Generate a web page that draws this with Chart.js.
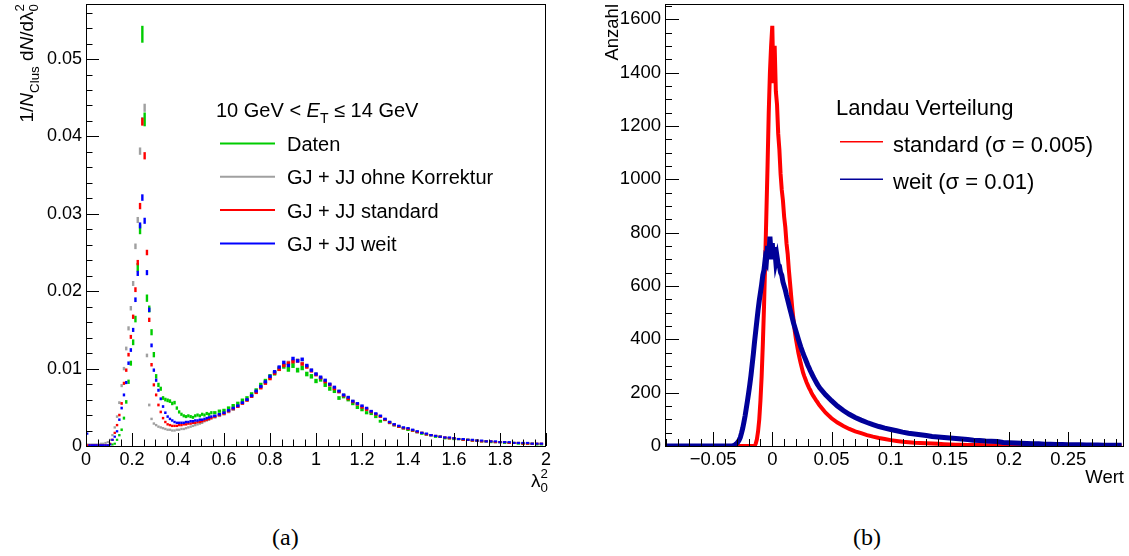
<!DOCTYPE html>
<html>
<head>
<meta charset="utf-8">
<script src="https://cdn.jsdelivr.net/npm/chart.js"></script>
<style>
  html, body { margin: 0; padding: 0; background: #fff; }
  body { width: 1129px; height: 556px; position: relative; overflow: hidden; }
  canvas { position: absolute; top: 0; }
  .cap { position: absolute; top: 524px; font-family: "Liberation Serif", "DejaVu Serif", serif; font-size: 24px; color: #000; }
</style>
</head>
<body>
<canvas id="lambdaChart" width="565" height="500" style="left:0"></canvas>
<canvas id="landauChart" width="564" height="500" style="left:565px"></canvas>
<div class="cap" style="left:272px">(a)</div>
<div class="cap" style="left:853px">(b)</div>
<script>
// ---------- (a) shower shape lambda0^2 ----------
// bin centres: 0.01 wide up to 0.55, 0.02 wide above
const fineBins = Array.from({length: 55}, (_, k) => +(0.005 + 0.01 * k).toFixed(3));
const coarseBins = Array.from({length: 72}, (_, j) => +(0.56 + 0.02 * j).toFixed(2));
const lambdaBins = fineBins.concat(coarseBins);

const seriesLabels = ['Daten', 'GJ + JJ ohne Korrektur', 'GJ + JJ standard', 'GJ + JJ weit'];
const seriesColors = ['#00cc00', '#a0a0a0', '#ff0000', '#0000ff'];

const datenFine = [0,0,0,0,0,0,0,0,0,0,0,0.0002,0.0003,0.0008,0.0014,0.0021,0.0036,0.0057,0.0083,0.0107,
  0.0134,0.0164,0.0231,0.0280,0.0532,0.0422,0.0191,0.0177,0.0147,0.0118,0.0090,0.0079,0.0074,0.0062,0.0060,
  0.0059,0.0058,0.0055,0.0056,0.0049,0.0044,0.0041,0.0039,0.0038,0.0039,0.0038,0.0037,0.0039,0.0040,0.0039,
  0.0041,0.0040,0.0042,0.0041,0.0043];
const datenCoarse = [0.0043,0.0045,0.0046,0.0049,0.0052,0.0055,0.0059,0.0062,0.0067,0.0072,
  0.0079,0.0084,0.0090,0.0094,0.0100,0.0103,0.0099,0.0104,0.0098,0.0101,
  0.0093,0.0090,0.0084,0.0086,0.0079,0.0074,0.0071,0.0062,0.0064,0.0060,
  0.0055,0.0050,0.0047,0.0043,0.0042,0.0038,0.0032,0.0034,0.0030,0.0027,
  0.0025,0.0023,0.0021,0.0020,0.0018,0.0016,0.0015,0.0014,0.0012,0.0012,
  0.0010,0.0010,0.0009,0.0009,0.0008,0.0008,0.0007,0.0007,0.0006,0.0006,
  0.0005,0.0005,0.0005,0.0004,0.0004,0.0004,0.0003,0.0003,0.0003,0.0003,
  0.0002,0.0002];

const ohneFine = [0.0002,0.0002,0.0002,0.0002,0.0002,0.0002,0.0003,0.0003,0.0004,0.0005,
  0.0008,0.0014,0.0024,0.0038,0.0056,0.0078,0.0100,0.0126,0.0152,0.0178,
  0.0210,0.0258,0.0292,0.0381,0.0420,0.0437,0.0117,0.0053,0.0035,0.0029,
  0.0027,0.0025,0.0024,0.0023,0.0022,0.0021,0.0021,0.0020,0.0020,0.0021,
  0.0021,0.0022,0.0022,0.0023,0.0024,0.0025,0.0026,0.0027,0.0028,0.0029,
  0.0030,0.0032,0.0033,0.0034,0.0036];
const ohneCoarse = [0.0037,0.0039,0.0041,0.0044,0.0047,0.0051,0.0055,0.0059,0.0064,0.0070,
  0.0076,0.0082,0.0088,0.0095,0.0100,0.0105,0.0108,0.0110,0.0111,0.0107,
  0.0103,0.0098,0.0093,0.0088,0.0084,0.0079,0.0075,0.0070,0.0066,0.0062,
  0.0058,0.0054,0.0051,0.0048,0.0044,0.0041,0.0038,0.0034,0.0031,0.0028,
  0.0025,0.0023,0.0022,0.0020,0.0018,0.0017,0.0015,0.0014,0.0013,0.0012,
  0.0011,0.0010,0.0010,0.0009,0.0008,0.0008,0.0007,0.0007,0.0006,0.0006,
  0.0006,0.0005,0.0005,0.0005,0.0004,0.0004,0.0004,0.0003,0.0003,0.0003,
  0.0003,0.0003];

const standardFine = [0.0001,0.0001,0.0001,0.0001,0.0001,0.0001,0.0001,0.0001,0.0001,0.0001,
  0.0003,0.0008,0.0017,0.0027,0.0040,0.0055,0.0081,0.0098,0.0118,0.0141,
  0.0167,0.0202,0.0237,0.0310,0.0419,0.0375,0.0250,0.0163,0.0105,0.0079,
  0.0066,0.0053,0.0044,0.0036,0.0031,0.0028,0.0027,0.0026,0.0026,0.0026,
  0.0027,0.0027,0.0028,0.0028,0.0029,0.0029,0.0030,0.0030,0.0031,0.0031,
  0.0032,0.0033,0.0034,0.0035,0.0036];
const standardCoarse = [0.0038,0.0040,0.0042,0.0045,0.0048,0.0051,0.0055,0.0059,0.0064,0.0069,
  0.0075,0.0081,0.0087,0.0094,0.0099,0.0104,0.0107,0.0109,0.0110,0.0106,
  0.0102,0.0097,0.0092,0.0088,0.0083,0.0079,0.0074,0.0070,0.0065,0.0061,
  0.0057,0.0054,0.0050,0.0047,0.0044,0.0041,0.0038,0.0034,0.0030,0.0027,
  0.0025,0.0023,0.0022,0.0020,0.0018,0.0017,0.0015,0.0014,0.0013,0.0012,
  0.0011,0.0010,0.0010,0.0009,0.0008,0.0008,0.0007,0.0007,0.0006,0.0006,
  0.0006,0.0005,0.0005,0.0005,0.0004,0.0004,0.0004,0.0003,0.0003,0.0003,
  0.0003,0.0003];

const weitFine = [0.0016,0.0001,0.0001,0.0001,0.0001,0.0001,0.0001,0.0001,0.0001,0.0001,
  0.0002,0.0008,0.0012,0.0019,0.0034,0.0049,0.0066,0.0082,0.0107,0.0124,
  0.0150,0.0189,0.0223,0.0285,0.0321,0.0291,0.0224,0.0176,0.0130,0.0098,
  0.0085,0.0072,0.0061,0.0051,0.0043,0.0038,0.0035,0.0033,0.0031,0.0030,
  0.0030,0.0030,0.0030,0.0031,0.0031,0.0032,0.0032,0.0033,0.0033,0.0034,
  0.0034,0.0035,0.0036,0.0037,0.0038];
const weitCoarse = [0.0039,0.0041,0.0043,0.0046,0.0049,0.0052,0.0056,0.0060,0.0065,0.0071,
  0.0077,0.0083,0.0090,0.0096,0.0102,0.0108,0.0104,0.0113,0.0110,0.0112,
  0.0104,0.0098,0.0093,0.0089,0.0085,0.0080,0.0076,0.0071,0.0066,0.0063,
  0.0058,0.0055,0.0052,0.0049,0.0045,0.0042,0.0039,0.0035,0.0031,0.0028,
  0.0026,0.0024,0.0023,0.0021,0.0019,0.0017,0.0016,0.0014,0.0013,0.0012,
  0.0011,0.0011,0.0010,0.0009,0.0009,0.0008,0.0008,0.0007,0.0007,0.0006,
  0.0006,0.0006,0.0005,0.0005,0.0005,0.0004,0.0004,0.0004,0.0004,0.0003,
  0.0003,0.0003];

// ---------- (b) Landau distributions ----------
const landauHead = [-0.09, -0.08, -0.07, -0.06, -0.05, -0.04];
const landauCore = Array.from({length: 76}, (_, i) => +(-0.035 + 0.001 * i).toFixed(3));
const landauTail = Array.from({length: 51}, (_, i) => +(0.045 + 0.005 * i).toFixed(3));
const landauX = landauHead.concat(landauCore, landauTail);

const landauLabels = ['standard (σ = 0.005)', 'weit (σ = 0.01)'];

const standardLandau = [0,0,0,0,0,0,
  0,0,0,0,0,0,0,0,0,0, 0,0,0,0,0,0,0,0,0,0, 0,
  8,25,55,100,170,260,380,520,690,870,1050,1250,1400,1500,
  1575,1360,1500,1330,1280,1170,1110,1020,960,920,
  860,820,760,720,660,610,560,510,470,430,
  400,375,350,330,310,292,275,262,250,238,
  228,218,210,200,192,185,178,171,165,158,
  152,
  125,104,88,75,64,55,48,41,35,30,
  26,22,19,16,14,12,11,10,9,8,
  7,6,5,5,4,4,4,3,3,3,
  3,2,2,2,2,2,2,2,1,1,
  1,1,1,1,1,1,1,1,1,1,
  1];
const weitLandau = [0,0,0,0,0,0,
  0,0,1,3,6,10,15,22,32,48,
  66,88,112,140,168,198,230,265,305,345,
  390,430,470,510,545,575,605,640,660,700,
  690,750,700,785,720,
  760,700,745,690,710,680,675,650,640,615,
  600,585,565,548,530,512,495,478,460,445,
  430,415,400,386,372,360,347,336,325,314,
  303,293,283,274,265,256,248,240,232,225,
  218,
  192,170,150,133,119,107,97,88,80,73,
  67,62,57,52,48,45,42,39,36,34,
  32,30,28,26,24,22,21,19,18,17,
  13,12,11,10,9,8,8,7,7,6,
  6,5,5,5,4,4,4,3,3,3,
  3];

// ---------- helpers ----------
const FONT = '"Liberation Sans", Arial, Helvetica, sans-serif';
function fontStr(size, italic) { return (italic ? 'italic ' : '') + size + 'px ' + FONT; }

function partWidth(ctx, p, size) {
  if (p.sub !== undefined) {
    ctx.font = fontStr(size * 0.7);
    return Math.max(ctx.measureText(p.sub).width, ctx.measureText(p.sup).width);
  }
  ctx.font = fontStr(size * (p.s || 1), p.i);
  return ctx.measureText(p.t).width;
}

function drawRich(ctx, x, y, parts, size, align) {
  let w = 0;
  parts.forEach(p => { w += partWidth(ctx, p, size); });
  let cx = align === 'right' ? x - w : x;
  ctx.textAlign = 'left';
  ctx.textBaseline = 'alphabetic';
  ctx.fillStyle = '#000';
  parts.forEach(p => {
    const pw = partWidth(ctx, p, size);
    if (p.sub !== undefined) {
      ctx.fillText(p.sub, cx, y + size * 0.28);
      ctx.fillText(p.sup, cx, y - size * 0.45);
    } else {
      ctx.fillText(p.t, cx, y + (p.dy || 0) * size);
    }
    cx += pw;
  });
}

// keep the plot frame exactly where the layout puts it
function noPad(s) {
  s.paddingTop = 0; s.paddingBottom = 0; s.paddingLeft = 0; s.paddingRight = 0;
}

// frame + inward ROOT style ticks
const rootAxes = {
  id: 'rootAxes',
  afterDatasetsDraw(chart, args, o) {
    const {ctx, chartArea: a, scales: {x, y}} = chart;
    ctx.save();
    ctx.strokeStyle = '#000';
    ctx.lineWidth = 1;
    ctx.beginPath();
    const iy0 = Math.ceil(y.min / o.yMinor - 1e-6), iy1 = Math.floor(y.max / o.yMinor + 1e-6);
    for (let i = iy0; i <= iy1; i++) {
      const py = Math.round(y.getPixelForValue(i * o.yMinor)) + 0.5;
      const len = (((i % o.yEvery) + o.yEvery) % o.yEvery === 0) ? o.majLen : o.minLen;
      ctx.moveTo(a.left, py);
      ctx.lineTo(a.left + len, py);
    }
    const ix0 = Math.ceil(x.min / o.xMinor - 1e-6), ix1 = Math.floor(x.max / o.xMinor + 1e-6);
    for (let i = ix0; i <= ix1; i++) {
      const px = Math.round(x.getPixelForValue(i * o.xMinor)) + 0.5;
      const len = (((i % o.xEvery) + o.xEvery) % o.xEvery === 0) ? o.majLen : o.minLen;
      ctx.moveTo(px, a.bottom);
      ctx.lineTo(px, a.bottom - len);
    }
    ctx.stroke();
    ctx.strokeRect(Math.round(a.left) + 0.5, Math.round(a.top) + 0.5,
      Math.round(a.right - a.left) - 1, Math.round(a.bottom - a.top));
    ctx.restore();
  }
};

// axis titles and legends
const rootText = {
  id: 'rootText',
  afterDraw(chart, args, o) {
    const ctx = chart.ctx;
    ctx.save();
    ctx.translate(o.yTitle.x, o.yTitle.y);
    ctx.rotate(-Math.PI / 2);
    drawRich(ctx, 0, 0, o.yTitle.parts, o.yTitle.size, 'right');
    ctx.restore();
    ctx.save();
    drawRich(ctx, o.xTitle.x, o.xTitle.y, o.xTitle.parts, o.xTitle.size, 'right');
    const L = o.legend;
    drawRich(ctx, L.titleX, L.titleY, L.title, L.size, 'left');
    L.items.forEach((it, i) => {
      const ly = L.lineY + i * L.step;
      ctx.strokeStyle = it.color;
      ctx.lineWidth = L.lineW;
      ctx.beginPath();
      ctx.moveTo(L.x0, ly);
      ctx.lineTo(L.x1, ly);
      ctx.stroke();
      drawRich(ctx, L.textX, ly + L.textDy, [{t: it.label}], L.size, 'left');
    });
    ctx.restore();
  }
};

Chart.defaults.font.family = FONT;
Chart.defaults.color = '#000';

function histSet(idx, values, order, errScale) {
  const color = seriesColors[idx];
  return {
    label: seriesLabels[idx],
    order: order,
    data: lambdaBins.map((x, i) => ({x: x, y: values[i]})),
    showLine: false,
    pointStyle: 'line',
    pointRotation: 90,
    borderColor: color,
    backgroundColor: color,
    pointBorderWidth: c => (c.raw && c.raw.x > 0.55 ? 3.4 : 2.4),
    pointRadius: c => (c.raw && c.raw.y > 0 ? 1 + errScale * c.raw.y : 0)
  };
}

const daten = datenFine.concat(datenCoarse);
const ohne = ohneFine.concat(ohneCoarse);
const standard = standardFine.concat(standardCoarse);
const weit = weitFine.concat(weitCoarse);

new Chart(document.getElementById('lambdaChart'), {
  type: 'scatter',
  data: {
    datasets: [
      histSet(0, daten, 3, 140),
      histSet(1, ohne, 4, 70),
      histSet(2, standard, 2, 70),
      histSet(3, weit, 1, 70)
    ]
  },
  options: {
    responsive: false,
    animation: false,
    events: [],
    layout: {autoPadding: false, padding: {top: 4, right: 19, left: 0, bottom: 0}},
    scales: {
      x: {
        type: 'linear', min: 0, max: 2,
        grid: {display: false, drawTicks: false}, border: {display: false},
        ticks: {stepSize: 0.2, includeBounds: false, autoSkip: false, maxRotation: 0, padding: 3,
          font: {size: 18}, callback: v => String(+v.toFixed(1))},
        afterFit: s => { s.height = 54; noPad(s); }
      },
      y: {
        type: 'linear', min: 0, max: 0.05711,
        grid: {display: false, drawTicks: false}, border: {display: false},
        ticks: {stepSize: 0.01, includeBounds: false, autoSkip: false, padding: 4,
          font: {size: 18}, callback: v => String(+v.toFixed(2))},
        afterFit: s => { s.width = 86; noPad(s); }
      }
    },
    plugins: {
      legend: {display: false},
      tooltip: {enabled: false},
      rootAxes: {yMinor: 0.002, yEvery: 5, xMinor: 0.05, xEvery: 4, majLen: 13, minLen: 6.5},
      rootText: {
        yTitle: {x: 33, y: 4, size: 19, parts: [{t: '1/'}, {t: 'N', i: true}, {t: 'Clus', s: 0.7, dy: 0.3},
          {t: ' d'}, {t: 'N', i: true}, {t: '/d'}, {t: 'λ'}, {sub: '0', sup: '2'}]},
        xTitle: {x: 548, y: 487, size: 19, parts: [{t: 'λ'}, {sub: '0', sup: '2'}]},
        legend: {
          titleX: 216, titleY: 117, size: 20,
          title: [{t: '10 GeV < '}, {t: 'E', i: true}, {t: 'T', s: 0.7, dy: 0.3}, {t: ' ≤ 14 GeV'}],
          x0: 220, x1: 275, lineY: 143.5, step: 33.3, lineW: 2, textX: 287, textDy: 7.5,
          items: seriesLabels.map((l, i) => ({label: l, color: seriesColors[i]}))
        }
      }
    }
  },
  plugins: [rootAxes, rootText]
});

new Chart(document.getElementById('landauChart'), {
  type: 'scatter',
  data: {
    datasets: [
      {label: landauLabels[0], order: 2, showLine: true, pointRadius: 0, borderWidth: 4,
        borderColor: '#ff0000', data: landauX.map((x, i) => ({x: x, y: standardLandau[i]}))},
      {label: landauLabels[1], order: 1, showLine: true, pointRadius: 0, borderWidth: 5,
        borderColor: '#000099', data: landauX.map((x, i) => ({x: x, y: weitLandau[i]}))}
    ]
  },
  options: {
    responsive: false,
    animation: false,
    events: [],
    layout: {autoPadding: false, padding: {top: 4, right: 5, left: 0, bottom: 0}},
    scales: {
      x: {
        type: 'linear', min: -0.0906, max: 0.297,
        grid: {display: false, drawTicks: false}, border: {display: false},
        ticks: {stepSize: 0.05, includeBounds: false, autoSkip: false, maxRotation: 0, padding: 3,
          font: {size: 18.5}, callback: v => { const s = +v.toFixed(2); return s < 0 ? '\u2212' + Math.abs(s) : String(s); }},
        afterFit: s => { s.height = 54; noPad(s); }
      },
      y: {
        type: 'linear', min: 0, max: 1657,
        grid: {display: false, drawTicks: false}, border: {display: false},
        ticks: {stepSize: 200, includeBounds: false, autoSkip: false, padding: 4,
          font: {size: 18.5}, callback: v => String(v)},
        afterFit: s => { s.width = 100; noPad(s); }
      }
    },
    plugins: {
      legend: {display: false},
      tooltip: {enabled: false},
      rootAxes: {yMinor: 50, yEvery: 4, xMinor: 0.01, xEvery: 5, majLen: 14, minLen: 7},
      rootText: {
        yTitle: {x: 53, y: 4, size: 18.5, parts: [{t: 'Anzahl'}]},
        xTitle: {x: 559, y: 483, size: 18.5, parts: [{t: 'Wert'}]},
        legend: {
          titleX: 271, titleY: 115, size: 22,
          title: [{t: 'Landau Verteilung'}],
          x0: 275, x1: 318, lineY: 141.7, step: 37.6, lineW: 1.5, textX: 328, textDy: 10,
          items: [{label: landauLabels[0], color: '#ff0000'}, {label: landauLabels[1], color: '#000099'}]
        }
      }
    }
  },
  plugins: [rootAxes, rootText]
});
</script>
</body>
</html>
